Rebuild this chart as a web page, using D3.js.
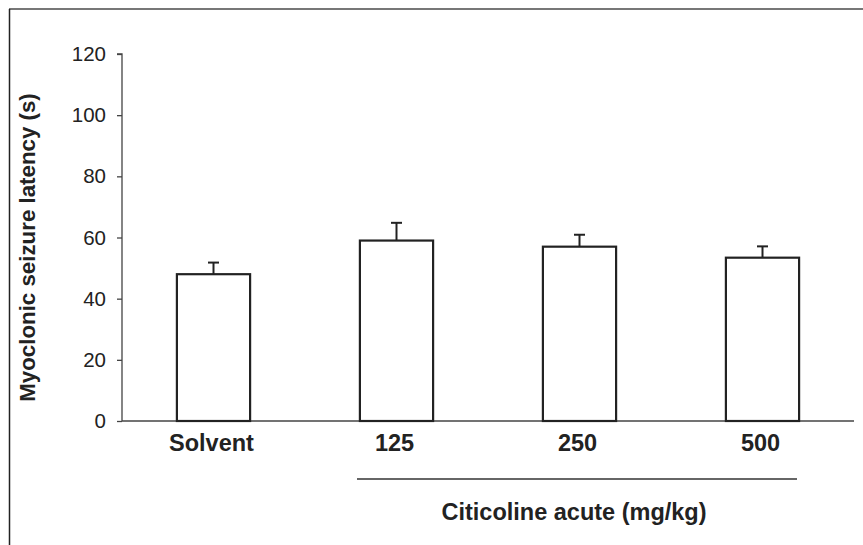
<!DOCTYPE html>
<html>
<head>
<meta charset="utf-8">
<script src="https://cdn.jsdelivr.net/npm/d3@7"></script>
<style>
  html, body { margin: 0; padding: 0; background: #fff; }
  svg { display: block; }
  text { font-family: "Liberation Sans", Arial, Helvetica, sans-serif; }
</style>
</head>
<body>
<div id="chart"></div>
<script>
// Myoclonic seizure latency by treatment group (mean + SEM)
const categories = ["Solvent", "125", "250", "500"];
const latencyMean = [48.0, 59.0, 57.0, 53.4];
const latencySem = [3.8, 5.8, 3.9, 3.7];
const yTicks = [0, 20, 40, 60, 80, 100, 120];
const groupLabel = "Citicoline acute (mg/kg)";
const yLabel = "Myoclonic seizure latency (s)";

const W = 863, H = 545;
const svg = d3.select("#chart").append("svg")
  .attr("width", W).attr("height", H);

// Outer frame (top and left edges visible)
svg.append("line").attr("x1", 9).attr("x2", W).attr("y1", 9).attr("y2", 9)
  .attr("stroke", "#777").attr("stroke-width", 2);
svg.append("line").attr("x1", 9.5).attr("x2", 9.5).attr("y1", 9).attr("y2", H)
  .attr("stroke", "#222").attr("stroke-width", 1.5);

const x = d3.scaleBand().domain(categories).range([122, 854])
  .paddingInner(0.6).paddingOuter(0.3);
const y = d3.scaleLinear().domain([0, 120]).range([421, 54]);

// Y axis
const yAxis = d3.axisLeft(y).tickValues(yTicks).tickSize(5).tickPadding(11);
const gy = svg.append("g").attr("transform", "translate(122,0)").call(yAxis);
gy.select(".domain").attr("stroke", "#444").attr("stroke-width", 1.3)
  .attr("d", `M-5,${y(120)}H0V${y(0)}`);
gy.selectAll(".tick line").attr("stroke", "#444").attr("stroke-width", 1.3);
gy.selectAll(".tick text").attr("fill", "#222").style("font-size", "20.5px")
  .style("font-family", "Liberation Sans, Arial, sans-serif");

// X baseline
svg.append("line").attr("x1", 122).attr("x2", 854)
  .attr("y1", y(0)).attr("y2", y(0))
  .attr("stroke", "#444").attr("stroke-width", 1.3);

// Error bars (upper only)
const eb = svg.append("g");
categories.forEach((c, i) => {
  const cx = x(c) + x.bandwidth() / 2;
  eb.append("line").attr("x1", cx).attr("x2", cx)
    .attr("y1", y(latencyMean[i])).attr("y2", y(latencyMean[i] + latencySem[i]))
    .attr("stroke", "#222").attr("stroke-width", 2);
  eb.append("line").attr("x1", cx - 5.5).attr("x2", cx + 5.5)
    .attr("y1", y(latencyMean[i] + latencySem[i])).attr("y2", y(latencyMean[i] + latencySem[i]))
    .attr("stroke", "#222").attr("stroke-width", 2);
});

// Bars
svg.append("g").selectAll("rect").data(categories).join("rect")
  .attr("x", d => x(d))
  .attr("y", (d, i) => y(latencyMean[i]))
  .attr("width", x.bandwidth())
  .attr("height", (d, i) => y(0) - y(latencyMean[i]))
  .attr("fill", "#fff").attr("stroke", "#222").attr("stroke-width", 2.2);

// Category labels
svg.append("g").selectAll("text").data(categories).join("text")
  .attr("x", d => x(d) + x.bandwidth() / 2 - 2)
  .attr("y", 451)
  .attr("text-anchor", "middle")
  .attr("fill", "#222")
  .style("font-size", "23.5px").style("font-weight", "bold")
  .text(d => d);

// Dose group bracket
svg.append("line").attr("x1", 357).attr("x2", 797).attr("y1", 479).attr("y2", 479)
  .attr("stroke", "#333").attr("stroke-width", 1.5);
svg.append("text").attr("x", 574).attr("y", 520).attr("text-anchor", "middle")
  .attr("fill", "#222").style("font-size", "23.5px").style("font-weight", "bold")
  .text(groupLabel);

// Y axis title
svg.append("text")
  .attr("transform", `translate(35,${(y(0) + y(120)) / 2 + 10}) rotate(-90)`)
  .attr("text-anchor", "middle")
  .attr("fill", "#222").style("font-size", "22.3px").style("font-weight", "bold")
  .text(yLabel);
</script>
</body>
</html>
